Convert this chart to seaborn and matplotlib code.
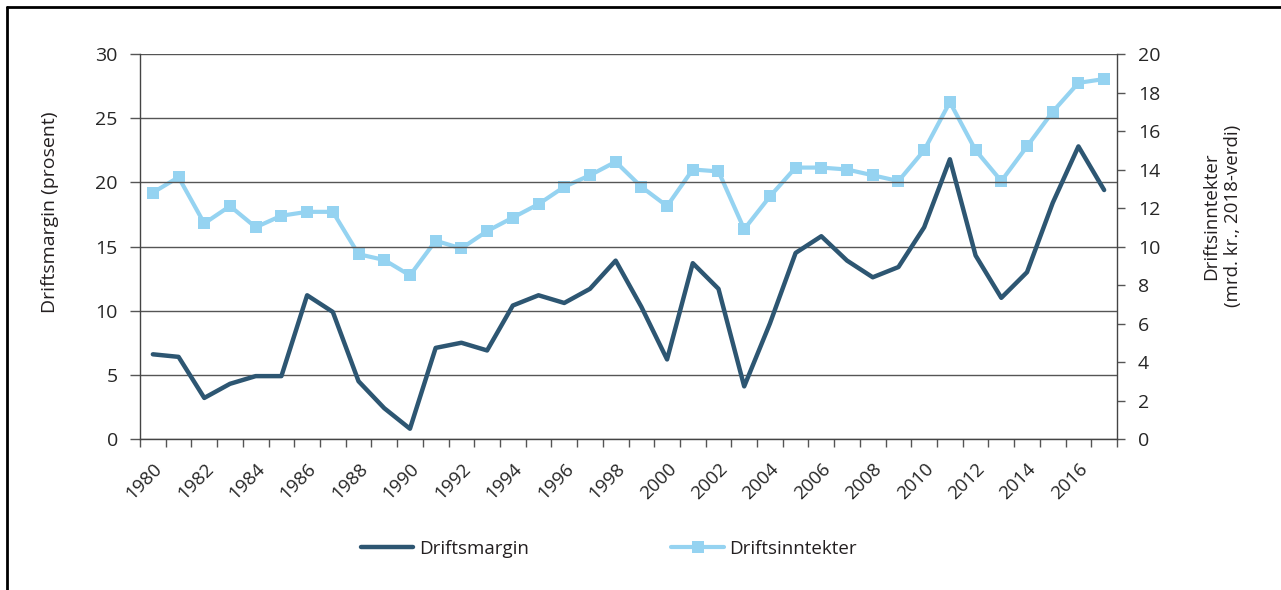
import numpy as np
import pandas as pd
import seaborn as sns
import matplotlib.pyplot as plt
from matplotlib.lines import Line2D

# ============ data ============
years = list(range(1980, 2018))
driftsmargin = [6.6, 6.4, 3.2, 4.3, 4.9, 4.9, 11.2, 9.9, 4.5, 2.4,
                0.8, 7.1, 7.5, 6.9, 10.4, 11.2, 10.6, 11.7, 13.9, 10.3,
                6.2, 13.7, 11.7, 4.1, 9.0, 14.5, 15.8, 13.9, 12.6, 13.4,
                16.5, 21.8, 14.3, 11.0, 13.0, 18.4, 22.8, 19.4]
driftsinntekter = [12.8, 13.6, 11.2, 12.1, 11.0, 11.6, 11.8, 11.8, 9.6, 9.3,
                   8.5, 10.3, 9.9, 10.8, 11.5, 12.2, 13.1, 13.7, 14.4, 13.1,
                   12.1, 14.0, 13.9, 10.9, 12.6, 14.1, 14.1, 14.0, 13.7, 13.4,
                   15.0, 17.5, 15.0, 13.4, 15.2, 17.0, 18.5, 18.7]

dark = "#2d5672"
light = "#95d3f1"
fs = 13.5

df = pd.DataFrame({"idx": np.arange(len(years)), "year": years,
                   "Driftsmargin": driftsmargin, "Driftsinntekter": driftsinntekter})

sns.set_style("white")
plt.rcParams["font.family"] = ["Open Sans", "DejaVu Sans"]
plt.rcParams["text.color"] = "#231f20"

fig = plt.figure(figsize=(12.81, 5.90), dpi=100)
ax = fig.add_axes([140 / 1281, 1 - 439 / 590, (1117 - 140) / 1281, (439 - 54) / 590])
ax2 = ax.twinx()

sns.lineplot(data=df, x="idx", y="Driftsmargin", ax=ax, color=dark, linewidth=3.2,
             solid_capstyle="round", legend=False, zorder=3)
sns.lineplot(data=df, x="idx", y="Driftsinntekter", ax=ax2, color=light, linewidth=3.0,
             marker="s", markersize=8, markeredgewidth=0, legend=False, zorder=3)

n = len(years)
ax.set_xlim(-0.5, n - 0.5)
ax.set_ylim(0, 30)
ax2.set_ylim(0, 20)
ax.set_yticks(range(0, 31, 5))
ax2.set_yticks(range(0, 21, 2))

# category axis: tick marks on boundaries, labels every second year
ax.set_xticks(np.arange(-0.5, n, 1.0))
ax.set_xticklabels([])
ax.set_xticks(np.arange(0, n, 2), minor=True)
ax.set_xticklabels([str(y) for y in years[::2]], minor=True, rotation=45,
                   ha="right", va="top", rotation_mode="anchor", fontsize=fs)
ax.tick_params(axis="x", which="major", direction="out", length=6, width=1, color="#555555", bottom=True)
ax.tick_params(axis="x", which="minor", length=0, pad=15)

ax.tick_params(axis="y", direction="out", length=7, width=1, color="#555555", left=True,
               labelsize=14, pad=9)
ax2.tick_params(axis="y", direction="out", length=6, width=1, color="#555555", right=True,
                labelsize=14, pad=9)
ax.set_xlabel("")
ax.set_ylabel("")
ax2.set_ylabel("")

ax.grid(axis="y", color="#555555", linewidth=1)
ax.set_axisbelow(True)
for a in (ax, ax2):
    a.spines["top"].set_visible(False)
    for s in ("left", "right", "bottom"):
        a.spines[s].set_color("#444444")
        a.spines[s].set_linewidth(1)
ax.spines["right"].set_visible(False)
ax2.spines["left"].set_visible(False)
ax2.spines["bottom"].set_visible(False)
ax.set_zorder(ax2.get_zorder() + 1)
ax.patch.set_visible(False)

fig.text(50 / 1281, 1 - 212 / 590, "Driftsmargin (prosent)", rotation=90,
         ha="center", va="center", fontsize=14)
fig.text(1222 / 1281, 1 - 216 / 590, "Driftsinntekter\n(mrd. kr., 2018-verdi)", rotation=90,
         ha="center", va="center", fontsize=fs, linespacing=1.25)

handles = [Line2D([], [], color=dark, linewidth=3.2, solid_capstyle="round"),
           Line2D([], [], color=light, linewidth=3.0, marker="s", markersize=8,
                  markeredgewidth=0, solid_capstyle="round")]
fig.legend(handles, ["Driftsmargin", "Driftsinntekter"], loc="center",
           bbox_to_anchor=(609 / 1281, 1 - 549 / 590), ncol=2, frameon=False,
           fontsize=fs, handlelength=2.8, handletextpad=0.3, columnspacing=7.6)

# outer frame (top and left only)
fig.add_artist(Line2D([7 / 1281, 7 / 1281], [0, 1 - 7 / 590], transform=fig.transFigure,
                      color="black", linewidth=2))
fig.add_artist(Line2D([7 / 1281, 1], [1 - 7 / 590, 1 - 7 / 590], transform=fig.transFigure,
                      color="black", linewidth=2))

fig.savefig("out.png", dpi=100)
